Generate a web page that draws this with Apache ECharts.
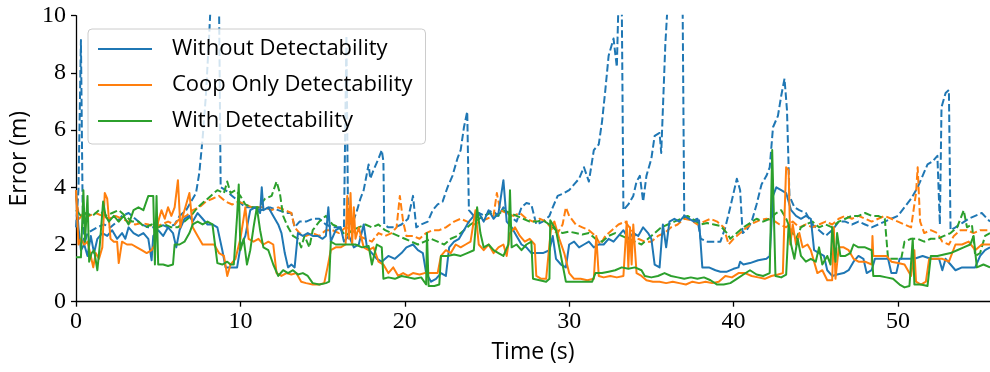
<!DOCTYPE html>
<html>
<head>
<meta charset="utf-8">
<script src="https://cdn.jsdelivr.net/npm/echarts@6/dist/echarts.min.js"></script>
<style>html,body{margin:0;padding:0;background:#fff}#c{width:990px;height:372px}</style>
</head>
<body>
<div id="c"></div>
<script>
// ---- data: [time (s), error (m)] ----
const seriesNames = ['Without Detectability', 'Coop Only Detectability', 'With Detectability'];
const xTicks = [0, 10, 20, 30, 40, 50];
const yTicks = [0, 2, 4, 6, 8, 10];

const withoutSolid = [[0,3.9],[0.15,2.6],[0.3,1.8],[0.5,2.0],[0.7,1.6],[0.9,2.3],[1.1,1.7],[1.3,2.2],[1.6,2.4],[1.9,2.3],[2.2,2.5],[2.5,2.2],[2.8,2.4],[3.0,2.2],[3.2,2.6],[3.5,2.4],[3.8,2.3],[4.1,2.4],[4.4,2.2],[4.6,1.45],[4.7,2.3],[5.0,2.5],[5.3,2.3],[5.6,2.6],[5.9,2.4],[6.1,1.9],[6.3,2.5],[6.6,2.9],[6.9,3.0],[7.1,2.8],[7.4,3.1],[7.7,2.9],[8.0,2.7],[8.3,2.7],[8.6,2.6],[8.9,1.8],[9.1,1.2],[9.5,1.2],[9.8,1.2],[10.0,1.9],[10.3,2.3],[10.6,3.2],[10.9,3.3],[11.2,3.1],[11.3,4.0],[11.4,3.2],[11.7,3.3],[12.0,3.0],[12.3,2.7],[12.5,2.4],[12.7,1.7],[12.9,1.2],[13.1,1.3],[13.3,1.2],[13.5,2.4],[13.8,2.3],[14.1,2.4],[14.4,2.3],[14.7,2.3],[15.0,2.2],[15.2,2.3],[15.35,3.3],[15.5,2.1],[15.8,2.5],[16.1,2.6],[16.3,2.1],[16.6,2.3],[16.9,1.9],[17.2,2.0],[17.5,2.7],[17.7,1.9],[18.0,1.7],[18.3,1.5],[18.6,1.4],[19.0,1.6],[19.4,1.5],[19.8,1.7],[20.1,1.9],[20.5,2.0],[20.8,1.8],[21.1,1.7],[21.3,1.0],[21.6,0.7],[21.9,0.8],[22.2,1.0],[22.5,0.9],[22.7,1.9],[23.0,2.1],[23.3,2.2],[23.6,2.5],[23.9,2.8],[24.2,3.0],[24.5,3.1],[24.8,2.8],[25.1,3.2],[25.4,2.9],[25.7,3.1],[26.0,4.25],[26.2,2.8],[26.5,2.6],[26.8,2.3],[27.1,2.0],[27.4,1.9],[27.7,1.7],[28.0,1.7],[28.4,1.7],[28.8,1.8],[29.0,2.3],[29.2,1.5],[29.5,1.3],[29.8,1.2],[30.0,2.0],[30.3,2.1],[30.6,1.9],[30.9,2.0],[31.2,2.1],[31.5,1.9],[31.8,2.0],[32.1,2.0],[32.4,2.2],[32.7,2.1],[33.0,2.3],[33.3,2.5],[33.6,2.2],[33.9,2.4],[34.2,2.3],[34.5,2.6],[34.8,2.4],[35.0,2.2],[35.2,1.3],[35.5,1.2],[35.7,2.7],[35.9,1.9],[36.1,2.8],[36.4,2.9],[36.7,2.8],[37.0,3.0],[37.3,2.9],[37.6,2.8],[37.9,2.85],[38.1,1.2],[38.5,1.2],[38.9,1.1],[39.2,1.05],[39.6,1.05],[40.0,1.15],[40.3,1.2],[40.4,1.4],[40.6,1.3],[41.0,1.35],[41.5,1.45],[42.0,1.5],[42.2,1.6],[42.4,3.7],[42.6,4.0],[42.9,3.9],[43.2,3.8],[43.5,3.2],[43.8,3.0],[44.1,2.9],[44.4,3.0],[44.7,2.9],[44.9,1.8],[45.2,1.7],[45.5,1.6],[45.7,1.1],[46.0,0.9],[46.3,0.95],[46.7,1.0],[47.0,1.1],[47.3,1.4],[47.6,1.6],[47.9,1.5],[48.1,1.0],[48.4,1.1],[48.6,1.5],[49.0,1.5],[49.4,1.5],[49.6,1.0],[49.9,1.0],[50.1,1.5],[50.5,1.5],[51.0,1.5],[51.5,1.6],[52.0,1.5],[52.5,1.5],[52.7,1.1],[52.9,1.5],[53.2,1.3],[53.5,1.1],[53.9,1.2],[54.3,1.2],[54.7,1.2],[55.0,1.6],[55.3,1.8],[55.6,1.9]];

const coopSolid = [[0,3.9],[0.15,2.0],[0.3,2.2],[0.5,2.0],[0.7,2.1],[0.9,1.6],[1.05,1.2],[1.2,1.7],[1.4,1.5],[1.6,1.9],[1.75,3.8],[1.9,3.6],[2.1,2.2],[2.3,2.1],[2.5,2.1],[2.6,1.35],[2.8,2.1],[3.1,2.0],[3.4,2.0],[3.7,1.9],[4.0,1.8],[4.3,1.7],[4.6,1.8],[4.8,2.0],[5.0,2.8],[5.2,3.2],[5.4,2.9],[5.6,3.3],[5.8,3.0],[6.0,3.3],[6.2,4.25],[6.35,2.6],[6.5,3.0],[6.7,3.4],[6.9,3.8],[7.1,2.6],[7.4,2.3],[7.7,2.0],[8.0,2.0],[8.4,2.0],[8.7,1.7],[9.0,1.6],[9.2,0.9],[9.4,1.3],[9.7,1.5],[10.0,2.2],[10.3,3.3],[10.5,2.2],[10.8,2.1],[11.1,2.2],[11.4,2.0],[11.7,2.1],[12.0,2.0],[12.2,1.0],[12.5,0.9],[12.8,1.0],[13.1,0.95],[13.4,1.0],[13.7,0.7],[14.0,0.65],[14.4,0.6],[14.8,0.6],[15.1,0.65],[15.3,1.2],[15.5,1.8],[15.8,1.9],[16.1,1.9],[16.4,2.0],[16.5,3.7],[16.6,2.2],[16.7,3.8],[16.8,2.0],[16.9,3.3],[17.0,2.2],[17.2,2.6],[17.5,1.9],[17.8,1.8],[18.1,1.9],[18.4,1.4],[18.7,1.3],[19.0,1.0],[19.3,1.2],[19.6,0.9],[19.9,1.0],[20.2,0.9],[20.5,1.0],[20.9,0.95],[21.2,1.0],[21.6,1.0],[22.0,1.0],[22.2,1.6],[22.5,1.8],[22.8,1.7],[23.1,2.0],[23.4,1.9],[23.7,2.0],[24.0,2.1],[24.3,3.2],[24.5,2.0],[24.8,1.8],[25.1,2.0],[25.4,1.7],[25.7,1.9],[26.0,2.0],[26.2,1.6],[26.4,2.4],[26.7,2.6],[27.0,2.3],[27.3,2.1],[27.6,2.2],[27.9,2.0],[28.0,0.9],[28.3,0.8],[28.6,0.8],[28.9,2.6],[29.1,2.8],[29.4,2.2],[29.7,1.7],[30.0,1.0],[30.3,0.8],[30.7,0.8],[31.1,0.75],[31.5,0.8],[31.65,2.3],[31.8,0.9],[32.1,0.85],[32.5,0.9],[32.9,0.85],[33.3,0.9],[33.5,2.8],[33.6,1.2],[33.7,2.6],[33.8,1.3],[33.9,2.7],[34.1,1.0],[34.4,0.9],[34.7,0.75],[35.1,0.7],[35.5,0.7],[35.9,0.65],[36.3,0.7],[36.7,0.65],[37.1,0.6],[37.5,0.7],[37.9,0.65],[38.3,0.7],[38.7,0.65],[39.1,0.7],[39.5,0.9],[39.9,0.85],[40.3,1.0],[40.7,1.0],[41.1,0.9],[41.5,0.85],[41.9,0.8],[42.3,0.9],[42.7,0.95],[43.0,1.0],[43.1,3.0],[43.2,4.7],[43.35,4.6],[43.45,2.0],[43.6,2.7],[43.8,2.0],[44.0,2.4],[44.2,1.9],[44.5,2.0],[44.7,1.8],[44.9,1.4],[45.1,1.0],[45.4,1.1],[45.7,0.75],[46.0,0.75],[46.1,2.6],[46.2,0.8],[46.4,1.9],[46.7,1.9],[47.0,1.8],[47.3,1.5],[47.6,1.4],[48.0,1.4],[48.4,1.3],[48.45,2.3],[48.5,1.6],[48.9,1.6],[49.3,1.6],[49.6,1.4],[50.0,1.35],[50.4,1.3],[50.8,0.9],[51.0,1.8],[51.1,0.7],[51.4,0.6],[51.7,0.7],[51.9,1.5],[52.3,1.5],[52.7,1.5],[53.1,1.4],[53.5,2.0],[53.9,2.0],[54.3,2.1],[54.7,1.8],[55.1,2.0],[55.6,2.0]];

const withSolid = [[0,1.55],[0.3,1.55],[0.45,3.9],[0.55,2.1],[0.7,3.7],[0.8,1.4],[0.95,1.7],[1.1,1.8],[1.3,1.1],[1.45,2.0],[1.65,3.5],[1.8,3.0],[2.0,2.8],[2.3,3.0],[2.6,2.8],[2.9,3.0],[3.2,2.7],[3.5,3.2],[3.8,3.3],[4.1,3.2],[4.4,3.7],[4.7,3.7],[4.8,1.3],[4.9,3.7],[5.0,1.3],[5.3,1.3],[5.6,1.25],[5.9,1.3],[6.0,2.0],[6.3,2.0],[6.6,2.1],[6.9,2.4],[7.1,2.7],[7.4,2.8],[7.7,2.7],[8.0,2.8],[8.3,2.7],[8.6,1.35],[8.9,1.3],[9.2,1.4],[9.4,1.3],[9.6,1.3],[9.8,3.0],[9.9,4.1],[10.0,1.8],[10.2,2.2],[10.4,1.3],[10.6,1.8],[10.8,2.6],[11.0,3.3],[11.2,2.5],[11.4,1.9],[11.7,1.8],[12.0,1.3],[12.3,0.9],[12.6,1.1],[12.9,1.0],[13.2,1.1],[13.5,0.95],[13.8,1.0],[14.1,0.9],[14.4,0.65],[14.8,0.6],[15.2,0.65],[15.4,0.7],[15.5,2.1],[15.8,2.0],[16.2,2.0],[16.6,2.0],[17.0,2.0],[17.4,1.9],[17.8,1.95],[18.0,1.3],[18.3,2.0],[18.6,1.9],[18.7,0.8],[19.0,0.85],[19.4,0.8],[19.8,0.9],[20.2,0.85],[20.6,0.8],[21.0,0.85],[21.3,0.6],[21.35,2.4],[21.45,0.55],[21.8,0.55],[22.1,0.6],[22.2,1.6],[22.6,1.6],[23.0,1.65],[23.4,1.6],[23.8,1.7],[24.2,1.8],[24.4,3.3],[24.6,2.4],[24.8,1.9],[25.1,2.0],[25.4,1.8],[25.7,1.7],[26.0,1.6],[26.3,2.0],[26.4,3.9],[26.5,1.9],[26.8,2.0],[27.1,1.8],[27.4,2.0],[27.7,2.1],[27.8,0.8],[28.2,0.75],[28.6,0.7],[28.8,0.8],[28.85,2.85],[29.2,2.5],[29.5,1.6],[29.8,0.7],[30.2,0.7],[30.6,0.7],[31.0,0.7],[31.4,0.7],[31.6,1.0],[32.0,1.0],[32.4,1.05],[32.8,1.1],[33.2,1.2],[33.6,1.15],[34.0,1.2],[34.4,1.1],[34.6,0.9],[35.0,0.85],[35.4,0.9],[35.8,1.0],[36.2,0.9],[36.6,0.85],[37.0,0.8],[37.4,0.85],[37.8,0.8],[38.2,0.85],[38.6,0.75],[39.0,0.6],[39.4,0.6],[39.8,0.65],[40.2,0.8],[40.6,0.95],[41.0,1.1],[41.4,0.95],[41.8,0.9],[42.2,1.0],[42.35,5.3],[42.45,5.3],[42.55,0.9],[42.9,0.85],[43.2,0.95],[43.35,2.7],[43.5,2.0],[43.7,1.5],[43.9,2.2],[44.1,1.6],[44.4,1.4],[44.7,1.5],[45.0,1.4],[45.2,1.9],[45.4,1.3],[45.7,1.6],[45.9,1.3],[46.0,2.6],[46.2,1.4],[46.3,2.4],[46.5,1.6],[46.8,1.6],[47.1,1.7],[47.3,2.0],[47.6,1.9],[48.0,1.9],[48.4,1.8],[48.5,0.9],[48.9,0.9],[49.3,0.85],[49.7,0.8],[50.1,0.6],[50.4,0.5],[50.7,0.55],[50.9,2.2],[51.0,0.6],[51.4,0.6],[51.8,0.55],[52.0,1.6],[52.4,1.6],[52.8,1.65],[53.2,1.7],[53.6,1.8],[54.0,1.9],[54.4,2.0],[54.6,2.3],[54.8,1.2],[55.2,1.3],[55.6,1.2]];

const withoutDashed = [[0,2.6],[0.15,3.9],[0.3,9.15],[0.4,3.5],[0.5,2.0],[0.7,2.4],[1.0,2.5],[1.3,2.6],[1.7,2.7],[2.1,2.6],[2.5,2.8],[2.8,3.0],[3.2,3.1],[3.6,2.9],[4.0,2.7],[4.4,2.6],[4.8,2.6],[5.2,2.7],[5.6,2.6],[6.0,2.7],[6.3,3.0],[6.7,3.2],[7.0,3.5],[7.3,3.8],[7.5,4.5],[7.7,5.7],[7.9,7.2],[8.1,9.3],[8.2,10.5],[8.7,10.5],[8.8,4.0],[9.1,3.9],[9.5,3.7],[9.9,3.5],[10.3,3.3],[10.8,3.3],[11.3,3.2],[11.8,3.3],[12.3,3.2],[12.8,3.1],[13.1,3.1],[13.3,2.6],[13.6,2.8],[14.0,2.8],[14.4,2.9],[14.8,2.9],[15.2,2.7],[15.6,2.6],[16.0,2.6],[16.3,2.6],[16.45,9.3],[16.55,2.8],[16.8,2.7],[17.1,3.2],[17.3,3.6],[17.5,3.9],[17.8,4.8],[17.9,4.3],[18.1,4.6],[18.4,5.0],[18.6,5.3],[18.7,4.9],[18.75,2.7],[19.0,2.6],[19.4,2.6],[19.8,2.7],[20.2,2.9],[20.5,3.7],[20.7,2.6],[21.0,2.7],[21.4,2.8],[21.7,3.2],[22.0,3.4],[22.3,3.5],[22.6,4.0],[22.9,4.4],[23.2,5.0],[23.4,5.3],[23.6,6.1],[23.8,6.65],[23.9,3.2],[24.2,3.0],[24.5,3.1],[24.9,3.0],[25.3,3.2],[25.7,3.0],[26.0,3.3],[26.4,3.0],[26.8,2.8],[27.1,3.3],[27.4,3.45],[27.7,3.4],[28.0,2.7],[28.4,2.8],[28.8,3.0],[29.0,3.3],[29.3,3.7],[29.7,3.8],[30.0,3.9],[30.3,4.1],[30.6,4.3],[30.9,4.7],[31.2,4.2],[31.5,5.3],[31.8,5.5],[32.0,6.3],[32.2,7.4],[32.4,8.6],[32.7,9.2],[32.9,8.2],[33.0,10.5],[33.2,10.5],[33.3,3.2],[33.6,3.4],[33.9,3.7],[34.1,4.2],[34.3,4.4],[34.5,3.5],[34.7,4.4],[35.0,5.0],[35.2,5.8],[35.5,5.9],[35.6,5.2],[35.85,9.0],[36.0,10.5],[36.9,10.5],[37.0,3.0],[37.3,2.9],[37.6,2.85],[37.8,2.9],[38.0,2.2],[38.4,2.1],[38.8,2.1],[39.2,2.1],[39.5,2.6],[39.8,3.3],[40.0,3.8],[40.2,4.3],[40.4,3.9],[40.55,2.4],[40.8,2.5],[41.1,2.8],[41.4,3.4],[41.7,4.1],[42.0,4.4],[42.2,4.7],[42.4,6.1],[42.7,6.5],[42.9,7.2],[43.1,7.8],[43.25,6.7],[43.4,3.7],[43.7,3.3],[44.0,3.2],[44.4,3.1],[44.8,2.7],[45.2,2.5],[45.6,2.3],[46.0,2.5],[46.4,2.8],[46.8,2.8],[47.2,2.7],[47.6,2.8],[48.0,2.7],[48.4,2.6],[48.8,2.7],[49.2,2.8],[49.6,2.9],[50.0,3.0],[50.4,3.3],[50.8,3.6],[51.2,4.0],[51.5,4.4],[51.8,4.8],[52.1,4.9],[52.4,5.1],[52.55,2.7],[52.65,6.8],[52.9,7.3],[53.1,7.4],[53.2,2.5],[53.5,2.6],[53.9,2.75],[54.3,2.9],[54.7,3.0],[55.1,3.1],[55.6,2.8]];

const coopDashed = [[0,3.7],[0.2,2.9],[0.45,3.1],[0.8,3.0],[1.2,3.1],[1.6,3.0],[2.0,2.9],[2.4,3.0],[2.8,2.9],[3.2,2.8],[3.6,2.7],[4.0,2.75],[4.4,2.7],[4.8,2.6],[5.2,2.7],[5.6,2.8],[6.0,2.7],[6.3,2.9],[6.7,3.0],[7.1,3.2],[7.5,3.3],[7.9,3.5],[8.3,3.6],[8.7,3.7],[9.1,3.5],[9.5,3.4],[9.9,3.5],[10.3,3.4],[10.7,3.3],[11.1,3.3],[11.5,3.3],[11.9,3.2],[12.3,3.3],[12.7,3.2],[13.1,3.1],[13.3,2.6],[13.6,2.4],[14.0,2.3],[14.4,2.4],[14.8,2.3],[15.2,2.5],[15.6,2.5],[16.0,2.4],[16.4,2.6],[16.8,2.5],[17.2,2.3],[17.6,2.2],[18.0,2.1],[18.4,2.4],[18.8,2.3],[19.2,2.4],[19.5,2.6],[19.7,3.7],[19.9,2.8],[20.1,2.3],[20.5,2.3],[20.9,2.2],[21.3,2.4],[21.7,2.5],[22.1,2.5],[22.5,2.6],[23.0,2.8],[23.4,2.9],[23.8,2.8],[24.2,2.7],[24.6,2.8],[25.0,2.9],[25.4,3.0],[25.6,3.8],[25.8,3.2],[26.2,3.1],[26.6,3.0],[27.0,3.1],[27.4,2.9],[27.8,2.8],[28.2,2.9],[28.6,2.8],[29.0,2.5],[29.3,2.4],[29.6,2.7],[29.8,3.3],[30.0,3.0],[30.4,2.7],[30.8,2.6],[31.2,2.5],[31.6,2.3],[31.9,2.0],[32.2,2.3],[32.6,2.5],[33.0,2.7],[33.4,2.8],[33.8,2.5],[34.2,2.2],[34.6,2.1],[35.0,2.1],[35.4,2.3],[35.8,2.4],[36.2,2.6],[36.6,2.7],[37.0,2.9],[37.4,2.85],[37.8,2.7],[38.2,2.8],[38.6,2.9],[39.0,2.8],[39.4,2.6],[39.7,2.0],[40.0,2.2],[40.4,2.4],[40.8,2.6],[41.2,2.75],[41.6,2.85],[42.0,2.9],[42.4,2.85],[42.8,2.7],[43.2,2.6],[43.6,2.8],[44.0,2.6],[44.4,2.7],[44.8,2.6],[45.2,2.7],[45.6,2.8],[46.0,2.7],[46.4,2.9],[46.8,3.0],[47.2,2.9],[47.6,3.0],[48.0,2.9],[48.4,2.8],[48.8,2.9],[49.2,3.0],[49.6,2.9],[50.0,2.8],[50.4,2.7],[50.8,2.6],[51.1,3.8],[51.2,4.7],[51.35,2.8],[51.6,2.4],[52.0,2.5],[52.4,2.4],[52.7,2.1],[53.1,2.0],[53.4,2.3],[53.8,2.5],[54.2,2.5],[54.6,2.4],[55.0,2.5],[55.6,2.5]];

const withDashed = [[0,3.2],[0.3,3.0],[0.6,3.1],[1.0,3.0],[1.4,3.2],[1.8,3.0],[2.2,3.1],[2.6,3.2],[3.0,3.0],[3.4,2.8],[3.8,2.8],[4.2,2.6],[4.6,2.7],[5.0,2.6],[5.4,2.7],[5.8,2.6],[6.2,2.6],[6.6,2.8],[7.0,3.0],[7.4,3.3],[7.8,3.5],[8.2,3.7],[8.6,3.9],[9.0,3.8],[9.2,4.2],[9.4,3.8],[9.7,3.9],[10.0,3.7],[10.3,3.4],[10.7,3.3],[11.1,3.3],[11.5,3.6],[11.9,3.7],[12.2,4.2],[12.4,3.8],[12.6,3.0],[12.9,2.6],[13.2,2.3],[13.5,2.2],[13.7,1.9],[13.9,2.3],[14.2,1.9],[14.4,2.5],[14.8,2.8],[15.2,3.0],[15.6,2.7],[16.0,2.6],[16.4,2.3],[16.8,2.5],[17.2,2.6],[17.6,2.7],[18.0,2.6],[18.4,2.7],[18.8,2.5],[19.2,2.4],[19.6,2.3],[20.0,2.2],[20.4,2.1],[20.8,2.0],[21.2,2.1],[21.6,2.2],[22.0,2.1],[22.4,2.0],[22.8,2.2],[23.2,2.3],[23.6,2.5],[24.0,2.7],[24.4,2.85],[24.8,3.0],[25.2,3.1],[25.6,3.0],[26.0,3.2],[26.4,3.1],[26.8,3.0],[27.2,2.9],[27.6,2.8],[28.0,2.8],[28.4,2.85],[28.8,2.7],[29.2,2.5],[29.6,2.4],[30.0,2.45],[30.4,2.4],[30.8,2.35],[31.2,2.4],[31.6,2.2],[32.0,2.1],[32.4,2.3],[32.8,2.4],[33.2,2.3],[33.6,2.2],[34.0,2.1],[34.4,2.0],[34.8,2.2],[35.2,2.4],[35.6,2.6],[36.0,2.7],[36.4,2.8],[36.8,2.9],[37.2,3.0],[37.6,2.85],[38.0,2.7],[38.4,2.75],[38.8,2.7],[39.2,2.65],[39.6,2.4],[39.8,2.2],[40.2,2.4],[40.6,2.6],[41.0,2.75],[41.4,2.9],[41.8,2.8],[42.2,2.9],[42.6,3.1],[42.9,3.2],[43.2,2.9],[43.5,2.5],[43.8,2.2],[44.1,2.6],[44.4,2.7],[44.8,2.8],[45.2,2.6],[45.6,2.7],[46.0,2.6],[46.4,2.8],[46.8,2.9],[47.2,3.0],[47.6,3.0],[48.0,3.1],[48.4,3.0],[48.8,3.0],[49.2,2.9],[49.4,1.5],[49.8,1.5],[50.2,1.5],[50.4,2.1],[50.8,2.2],[51.2,2.2],[51.6,2.1],[52.0,2.2],[52.4,2.2],[52.8,2.3],[53.2,2.4],[53.6,2.6],[54.0,3.2],[54.2,2.6],[54.5,2.7],[54.7,1.6],[55.0,1.7],[55.3,2.3],[55.6,2.4]];

const colors = ['#1f77b4', '#ff7f0e', '#2ca02c'];

function lineSeries(name, data, color, dashed) {
  return {
    name: name, type: 'line', data: data, symbol: 'none', showSymbol: false,
    clip: true, animation: false, silent: true,
    lineStyle: { color: color, width: 2, type: dashed ? [7.5, 3.2] : 'solid', join: 'round' },
    itemStyle: { color: color }
  };
}

const chart = echarts.init(document.getElementById('c'), null, { renderer: 'canvas' });
const axisCol = '#000';
chart.setOption({
  animation: false,
  backgroundColor: '#fff',
  grid: { left: 76, right: 0, top: 15.7, bottom: 70.3, containLabel: false, outerBoundsMode: 'none' },
  xAxis: {
    type: 'value', min: xTicks[0], max: 55.6, interval: 10,
    name: 'Time (s)', nameLocation: 'middle', nameGap: 39,
    nameTextStyle: { fontFamily: 'Open Sans', fontSize: 23, color: '#000' },
    axisLine: { show: true, lineStyle: { color: axisCol, width: 1.3 } },
    axisTick: { show: true, length: 5, inside: false, lineStyle: { color: axisCol, width: 1.3 } },
    axisLabel: { fontFamily: 'Liberation Serif', fontSize: 24, color: '#000', margin: 8, showMaxLabel: false,
      formatter: v => xTicks.includes(v) ? String(v) : '' },
    splitLine: { show: false }
  },
  yAxis: {
    type: 'value', min: yTicks[0], max: yTicks[yTicks.length - 1], interval: 2,
    name: 'Error (m)', nameLocation: 'middle', nameGap: 43,
    nameTextStyle: { fontFamily: 'Open Sans', fontSize: 23, color: '#000' },
    axisLine: { show: true, lineStyle: { color: axisCol, width: 1.3 } },
    axisTick: { show: true, length: 5, inside: false, lineStyle: { color: axisCol, width: 1.3 } },
    axisLabel: { fontFamily: 'Liberation Serif', fontSize: 24, color: '#000', margin: 10 },
    splitLine: { show: false }
  },
  legend: {
    data: seriesNames.map((n, i) => ({ name: n, icon: 'rect', itemStyle: { color: colors[i] } })),
    orient: 'vertical', left: 88, top: 29,
    padding: [7, 13, 10, 10],
    itemWidth: 54, itemHeight: 2, itemGap: 10,
    backgroundColor: 'rgba(255,255,255,0.8)', borderColor: '#cccccc', borderWidth: 1, borderRadius: 4,
    textStyle: { fontFamily: 'Open Sans', fontSize: 22, color: '#000', lineHeight: 26, padding: [0, 0, 0, 15] },
    selectedMode: false
  },
  series: [
    lineSeries(seriesNames[0] + ' (dashed)', withoutDashed, colors[0], true),
    lineSeries(seriesNames[1] + ' (dashed)', coopDashed, colors[1], true),
    lineSeries(seriesNames[2] + ' (dashed)', withDashed, colors[2], true),
    lineSeries(seriesNames[0], withoutSolid, colors[0], false),
    lineSeries(seriesNames[1], coopSolid, colors[1], false),
    lineSeries(seriesNames[2], withSolid, colors[2], false)
  ]
});
</script>
</body>
</html>
